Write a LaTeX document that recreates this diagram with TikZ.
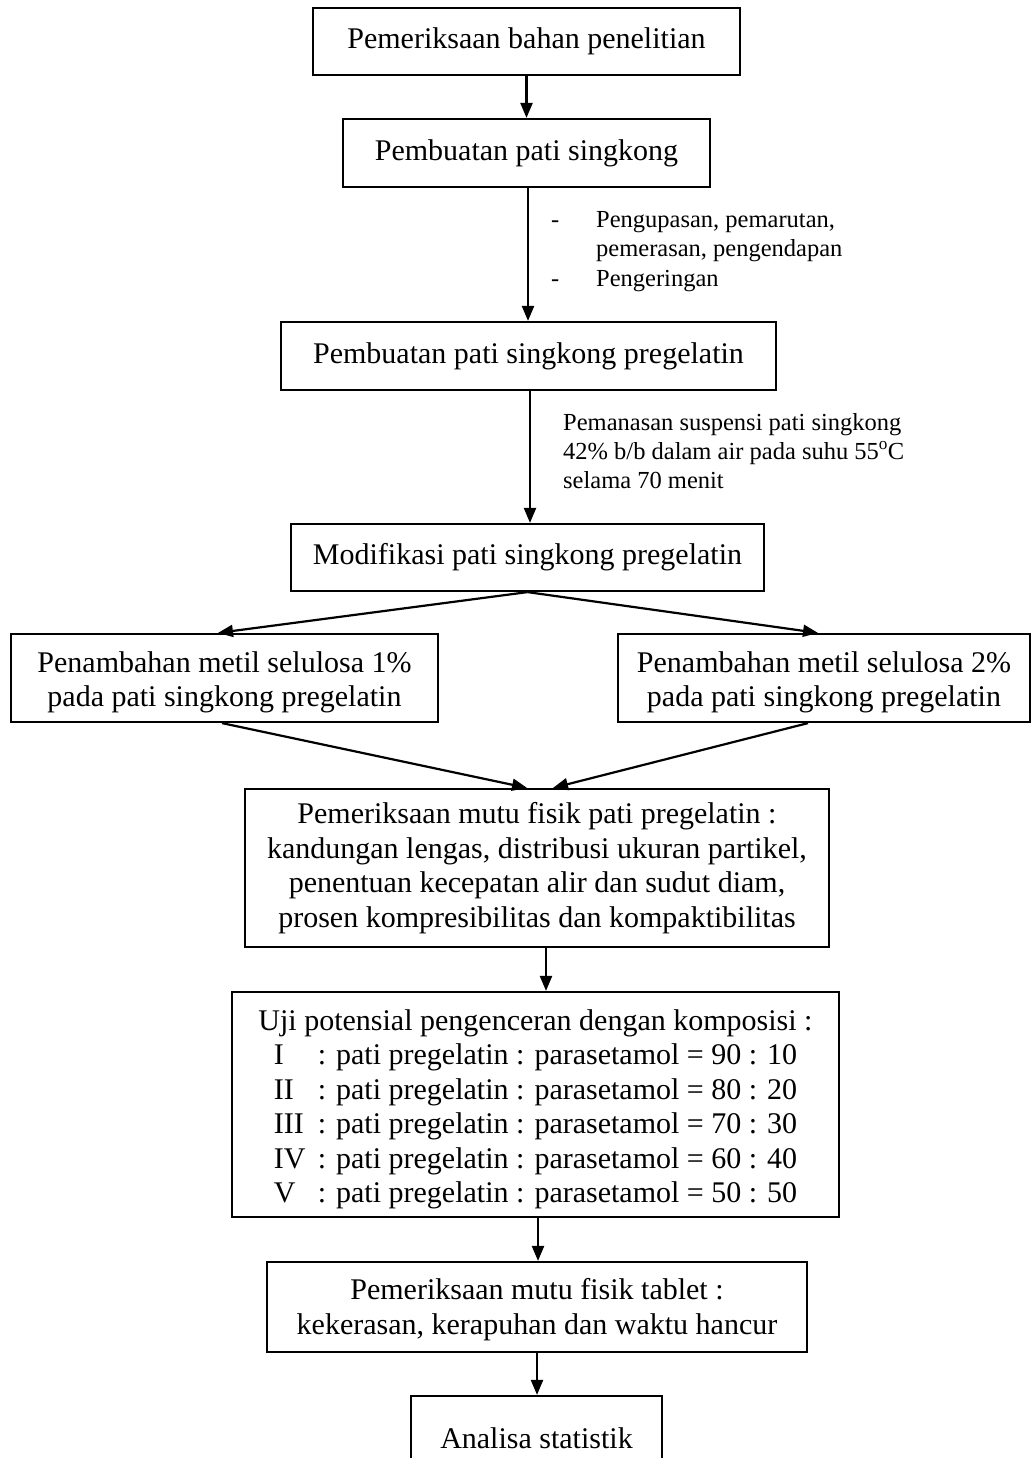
\documentclass[tikz,border=0pt]{standalone}
\usepackage{fontspec}
\setmainfont{Liberation Serif}
\usetikzlibrary{arrows.meta}
\begin{document}
\begin{tikzpicture}[x=1pt,y=-1pt,
  box/.style={draw, line width=2.2pt, inner sep=0pt, align=center,
    font=\fontsize{30}{34.5}\selectfont},
  arr/.style={line width=2.2pt, -{Triangle[length=15pt,width=12pt]}},
  note/.style={anchor=base west, inner sep=0pt,
    font=\fontsize{24.5}{29.5}\selectfont}]
\useasboundingbox (0,0) rectangle (1032,1458);
\fill[white] (0,0) rectangle (1032,1458);

\node[box, minimum width=427pt, minimum height=67pt] (b1) at (526.5,41.5) {Pemeriksaan bahan penelitian};
\node[box, minimum width=367pt, minimum height=68pt] (b2) at (526.5,153) {Pembuatan pati singkong};
\node[box, minimum width=495pt, minimum height=68pt] (b3) at (528.5,356) {Pembuatan pati singkong pregelatin};
\node[box, minimum width=473pt, minimum height=67pt] (b4) at (527.5,557.5) {Modifikasi pati singkong pregelatin};
\node[box, minimum width=427pt, minimum height=88pt] (b5) at (224.5,678) {\rule{0pt}{29pt}Penambahan metil selulosa 1\%\\pada pati singkong pregelatin};
\node[box, minimum width=412pt, minimum height=88pt] (b6) at (824,678) {\rule{0pt}{29pt}Penambahan metil selulosa 2\%\\pada pati singkong pregelatin};
\node[box, minimum width=584pt, minimum height=158pt] (b7) at (537,868) {Pemeriksaan mutu fisik pati pregelatin :\\kandungan lengas, distribusi ukuran partikel,\\penentuan kecepatan alir dan sudut diam,\\prosen kompresibilitas dan kompaktibilitas};
\node[box, minimum width=607pt, minimum height=225pt] (b8) at (535.5,1104.5) {\rule{0pt}{30pt}Uji potensial pengenceran dengan komposisi :\\
\makebox[44pt][l]{I}: pati pregelatin : parasetamol = 90 : 10\\
\makebox[44pt][l]{II}: pati pregelatin : parasetamol = 80 : 20\\
\makebox[44pt][l]{III}: pati pregelatin : parasetamol = 70 : 30\\
\makebox[44pt][l]{IV}: pati pregelatin : parasetamol = 60 : 40\\
\makebox[44pt][l]{V}: pati pregelatin : parasetamol = 50 : 50};
\node[box, minimum width=540pt, minimum height=90pt] (b9) at (537,1307) {\rule{0pt}{26pt}Pemeriksaan mutu fisik tablet :\\kekerasan, kerapuhan dan waktu hancur};
\node[box, minimum width=251pt, minimum height=84pt] (b10) at (536.5,1438) {Analisa statistik};

% annotations
\node[note] (n1a) at (551,227) {-};
\node[note] (n1b) at (596,227) {Pengupasan, pemarutan,};
\node[note] (n1c) at (596,256) {pemerasan, pengendapan};
\node[note] (n1d) at (551,286) {-};
\node[note] (n1e) at (596,286) {Pengeringan};

\node[note] (n2a) at (563,430) {Pemanasan suspensi pati singkong};
\node[note] (n2b) at (563,459) {42\% b/b dalam air pada suhu 55\textsuperscript{o}C};
\node[note] (n2c) at (563,488) {selama 70 menit};

% connectors
\draw[arr] (b1.south) -- (b1.south |- b2.north);
\draw[arr] ([xshift=1.5pt]b2.south) -- ([xshift=1.5pt]b2.south |- b3.north);
\draw[arr] ([xshift=1.5pt]b3.south) -- ([xshift=1.5pt]b3.south |- b4.north);
\draw[arr] (b4.south) -- ([xshift=-6.5pt]b5.north);
\draw[arr] (b4.south) -- ([xshift=-6pt]b6.north);
\draw[arr] ([xshift=-2.5pt]b5.south) -- ([xshift=-10pt]b7.north);
\draw[arr] ([xshift=-16pt]b6.south) -- ([xshift=16pt]b7.north);
\draw[arr] ([xshift=9pt]b7.south) -- ([xshift=9pt]b7.south |- b8.north);
\draw[arr] ([xshift=2.5pt]b8.south) -- ([xshift=2.5pt]b8.south |- b9.north);
\draw[arr] (b9.south) -- (b9.south |- b10.north);
\end{tikzpicture}
\end{document}
